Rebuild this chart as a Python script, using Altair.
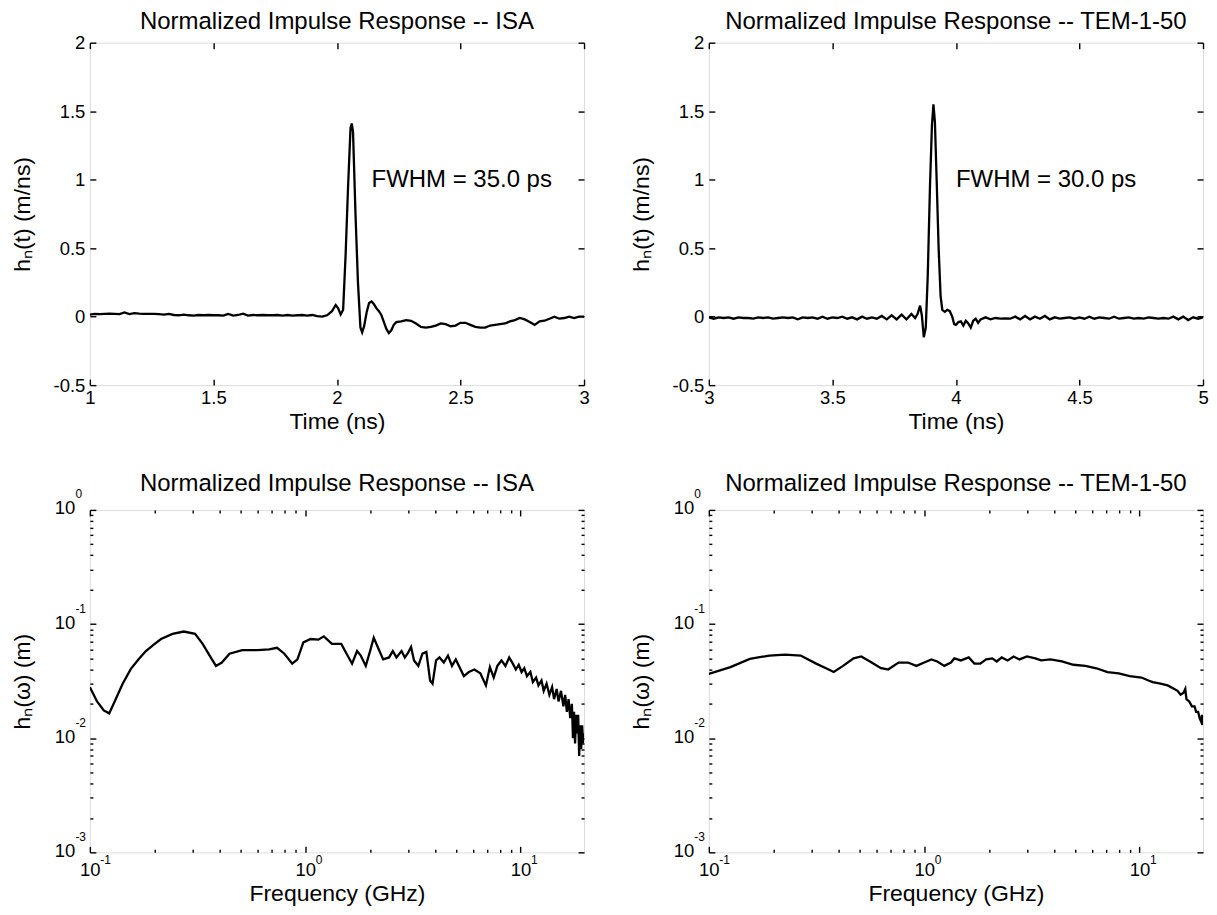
import altair as alt
import pandas as pd

FONT = "Liberation Sans"
W, H = 495, 343
TITLE_FS = 24
LABEL_FS = 18.5
AXTITLE_FS = 23
NOTE_FS = 24
EXP_FS = 12
MAJ, MIN = 6, 3

# ---------------- data: ISA time response ----------------
isa_t = [1.00, 1.02, 1.04, 1.06, 1.08, 1.10, 1.12, 1.14, 1.16, 1.18,
         1.20, 1.22, 1.24, 1.26, 1.28, 1.30, 1.32, 1.34, 1.36, 1.38,
         1.40, 1.42, 1.44, 1.46, 1.48, 1.50, 1.52, 1.54, 1.56, 1.58,
         1.60, 1.62, 1.64, 1.66, 1.68, 1.70, 1.72, 1.74, 1.76, 1.78,
         1.80, 1.82, 1.84, 1.86, 1.88, 1.90, 1.92, 1.94,
         1.96, 1.98, 1.995, 2.005, 2.015, 2.025, 2.035, 2.045, 2.055, 2.06,
         2.065, 2.075, 2.085, 2.095, 2.102, 2.11, 2.12, 2.13, 2.14, 2.15,
         2.16, 2.17, 2.18, 2.19, 2.20, 2.21, 2.22, 2.23, 2.24,
         2.26, 2.28, 2.30, 2.32, 2.34, 2.36, 2.38, 2.40, 2.42, 2.44,
         2.46, 2.48, 2.50, 2.52, 2.54, 2.56, 2.58, 2.60, 2.62, 2.64,
         2.66, 2.68, 2.70, 2.72, 2.74, 2.76, 2.78, 2.80, 2.82, 2.84,
         2.86, 2.88, 2.90, 2.92, 2.94, 2.96, 2.98, 3.00]
isa_h = [0.015, 0.02, 0.018, 0.02, 0.022, 0.02, 0.018, 0.03, 0.018, 0.025,
         0.022, 0.02, 0.02, 0.02, 0.018, 0.015, 0.02, 0.012, 0.01, 0.015,
         0.01, 0.008, 0.012, 0.01, 0.012, 0.01, 0.01, 0.008, 0.02, 0.008,
         0.012, 0.022, 0.008, 0.012, 0.01, 0.012, 0.01, 0.01, 0.012, 0.008,
         0.012, 0.008, 0.01, 0.012, 0.008, 0.012, 0.004, 0.0,
         0.01, 0.04, 0.085, 0.06, 0.015, 0.05, 0.45, 0.95, 1.38, 1.41,
         1.35, 0.75, 0.25, -0.08, -0.115, -0.07, 0.03, 0.1, 0.11, 0.09,
         0.06, 0.04, 0.01, -0.04, -0.09, -0.12, -0.1, -0.06, -0.04,
         -0.035, -0.025, -0.03, -0.05, -0.075, -0.08, -0.075, -0.065, -0.05, -0.055,
         -0.07, -0.065, -0.045, -0.045, -0.06, -0.075, -0.08, -0.08, -0.065, -0.06,
         -0.055, -0.05, -0.035, -0.025, -0.01, -0.02, -0.04, -0.06, -0.035, -0.03,
         -0.015, 0.0, -0.015, -0.01, 0.0, -0.01, 0.0, 0.0]

# ---------------- data: TEM-1-50 time response ----------------
tem_t = [3.00, 3.02, 3.04, 3.06, 3.08, 3.10, 3.12, 3.14, 3.16, 3.18,
         3.20, 3.22, 3.24, 3.26, 3.28, 3.30, 3.32, 3.34, 3.36, 3.38,
         3.40, 3.42, 3.44, 3.46, 3.48, 3.50, 3.52, 3.54, 3.56, 3.58,
         3.60, 3.62, 3.64, 3.66, 3.68, 3.70, 3.72, 3.74, 3.76, 3.78, 3.80,
         3.82, 3.835, 3.845, 3.855, 3.862, 3.87, 3.878, 3.886, 3.895, 3.903,
         3.909, 3.915, 3.922, 3.93, 3.938, 3.945, 3.955, 3.965, 3.975, 3.985,
         3.993, 4.00, 4.01, 4.02, 4.03, 4.04, 4.05, 4.06, 4.07, 4.08,
         4.09, 4.10, 4.12, 4.14,
         4.16, 4.18, 4.20, 4.22, 4.24, 4.26, 4.28, 4.30, 4.32, 4.34,
         4.36, 4.38, 4.40, 4.42, 4.44, 4.46, 4.48, 4.50, 4.52, 4.54,
         4.56, 4.58, 4.60, 4.62, 4.64, 4.66, 4.68, 4.70, 4.72, 4.74,
         4.76, 4.78, 4.80, 4.82, 4.84, 4.86, 4.88, 4.90, 4.92, 4.94,
         4.96, 4.98, 5.00]
tem_h = [-0.005, -0.015, -0.005, -0.01, -0.005, -0.015, -0.005, -0.01, -0.01, -0.015,
         -0.005, -0.01, -0.005, -0.015, -0.01, -0.005, -0.01, -0.005, -0.02, -0.005,
         -0.01, -0.005, -0.015, 0.0, -0.015, -0.005, -0.01, 0.0, -0.015, -0.005,
         -0.02, 0.0, -0.015, -0.005, -0.015, 0.005, -0.02, 0.01, -0.02, 0.015, -0.02,
         0.02, -0.01, 0.02, 0.08, 0.01, -0.15, -0.08, 0.3, 0.95, 1.4,
         1.55, 1.42, 1.0, 0.5, 0.15, 0.05, 0.035, 0.05, 0.04, 0.0,
         -0.055, -0.06, -0.04, -0.035, -0.065, -0.03, -0.05, -0.08, -0.03, -0.015,
         -0.045, -0.02, -0.005, -0.02,
         -0.01, -0.015, -0.012, -0.015, 0.0, -0.02, 0.005, -0.02, 0.0, -0.015,
         0.005, -0.02, -0.005, -0.015, -0.01, -0.005, -0.015, -0.005, -0.015, 0.0,
         -0.015, -0.005, -0.01, -0.015, 0.0, -0.015, -0.01, -0.005, -0.015, -0.01,
         -0.015, -0.005, -0.01, -0.015, -0.01, -0.015, 0.0, -0.02, 0.0, -0.025,
         -0.005, -0.015, -0.005]

# ---------------- data: ISA frequency response ----------------
isa_f = [0.1, 0.108, 0.116, 0.123, 0.131, 0.142, 0.155, 0.168, 0.182, 0.198,
         0.214, 0.242, 0.273, 0.308, 0.334, 0.364, 0.385, 0.41, 0.445, 0.51,
         0.6, 0.68, 0.74, 0.8, 0.87, 0.92, 0.98, 1.06, 1.15, 1.22,
         1.33, 1.47, 1.59, 1.65, 1.74, 1.81, 1.91, 2.0, 2.08, 2.17,
         2.3, 2.45, 2.55, 2.65, 2.8, 2.9, 3.0, 3.1, 3.2, 3.35,
         3.5, 3.65, 3.8, 3.9, 4.05, 4.2, 4.4, 4.6, 4.8, 5.0,
         5.2, 5.45, 5.75, 6.1, 6.5, 6.9, 7.2, 7.5, 7.8, 8.15,
         8.5, 8.85, 9.2, 9.5, 9.8, 10.1, 10.4, 10.7, 11.1, 11.4,
         11.8, 12.1, 12.5, 12.8, 13.2, 13.6, 14.0, 14.3, 14.7, 15.0,
         15.4, 15.8, 16.1, 16.4, 16.7, 17.0, 17.3, 17.5, 17.7, 17.9,
         18.1, 18.3, 18.5, 18.7, 18.9, 19.1, 19.3, 19.5, 19.65]
isa_hf = [0.028, 0.021, 0.0175, 0.0165, 0.0214, 0.030, 0.0405, 0.049, 0.058, 0.066,
          0.074, 0.082, 0.086, 0.082, 0.067, 0.051, 0.043, 0.046, 0.055, 0.059,
          0.059, 0.060, 0.062, 0.055, 0.045, 0.049, 0.069, 0.074, 0.073, 0.078,
          0.067, 0.067, 0.051, 0.045, 0.058, 0.053, 0.043, 0.058, 0.076, 0.063,
          0.049, 0.051, 0.058, 0.051, 0.058, 0.051, 0.056, 0.063, 0.048, 0.043,
          0.055, 0.057, 0.032, 0.030, 0.048, 0.051, 0.046, 0.053, 0.043, 0.049,
          0.042, 0.035, 0.038, 0.040, 0.037, 0.029, 0.042, 0.034, 0.043, 0.048,
          0.043, 0.051, 0.045, 0.040, 0.044, 0.038, 0.041, 0.035, 0.038, 0.031,
          0.034, 0.029, 0.032, 0.026, 0.030, 0.024, 0.028, 0.022, 0.027, 0.021,
          0.026, 0.019, 0.024, 0.017, 0.022, 0.015, 0.020, 0.010, 0.017, 0.009,
          0.016, 0.011, 0.016, 0.007, 0.013, 0.008, 0.013, 0.009, 0.011]

# ---------------- data: TEM-1-50 frequency response ----------------
tem_f = [0.1, 0.126, 0.155, 0.191, 0.226, 0.267, 0.315, 0.35, 0.38, 0.42,
         0.47, 0.51, 0.56, 0.63, 0.68, 0.76, 0.84, 0.92, 1.0, 1.08,
         1.15, 1.24, 1.33, 1.38, 1.48, 1.61, 1.71, 1.82, 1.94, 2.07,
         2.17, 2.29, 2.44, 2.6, 2.77, 3.0, 3.28, 3.49, 3.86, 4.36,
         4.93, 5.6, 6.3, 7.1, 8.0, 9.0, 10.2, 11.0, 11.5, 12.5,
         13.5, 14.5, 15.0, 15.5, 16.0, 16.3, 16.5, 17.0, 17.5, 18.0,
         18.3, 18.7, 19.0, 19.3, 19.5, 19.65]
tem_hf = [0.0366, 0.042, 0.0495, 0.053, 0.054, 0.053, 0.045, 0.041, 0.038, 0.043,
          0.050, 0.052, 0.047, 0.041, 0.040, 0.046, 0.046, 0.043, 0.046, 0.049,
          0.047, 0.043, 0.046, 0.050, 0.048, 0.051, 0.045, 0.045, 0.049, 0.050,
          0.047, 0.051, 0.048, 0.052, 0.049, 0.052, 0.050, 0.048, 0.049, 0.047,
          0.044, 0.043, 0.041, 0.038, 0.037, 0.035, 0.034, 0.032, 0.031, 0.030,
          0.029, 0.027, 0.026, 0.024, 0.025, 0.027, 0.022, 0.021, 0.019, 0.019,
          0.017, 0.017, 0.015, 0.014, 0.016, 0.013]

# ---------------- text ----------------
titles = ["Normalized Impulse Response -- ISA", "Normalized Impulse Response -- TEM-1-50"]
notes = ["FWHM = 35.0 ps", "FWHM = 30.0 ps"]
note_t = [2.14, 4.0]
note_h = [1.0, 1.0]

time_ticks_isa = [1, 1.5, 2, 2.5, 3]
time_ticks_tem = [3, 3.5, 4, 4.5, 5]
h_ticks = [-0.5, 0, 0.5, 1, 1.5, 2]
f_major = [0.1, 1, 10]
f_minor = [0.2, 0.3, 0.4, 0.5, 0.6, 0.7, 0.8, 0.9, 2, 3, 4, 5, 6, 7, 8, 9]
m_major = [0.001, 0.01, 0.1, 1]
m_minor = [0.002, 0.003, 0.004, 0.005, 0.006, 0.007, 0.008, 0.009,
           0.02, 0.03, 0.04, 0.05, 0.06, 0.07, 0.08, 0.09,
           0.2, 0.3, 0.4, 0.5, 0.6, 0.7, 0.8, 0.9]


def ax(**kw):
    base = dict(grid=False, domain=False, labelFont=FONT, titleFont=FONT,
                labelColor="black", titleColor="black", tickColor="black",
                labelFlush=False, labelOverlap=False, labelBound=False)
    base.update(kw)
    return alt.Axis(**base)


def tick_axis(orient, values, size):
    return ax(orient=orient, values=values, labels=False, ticks=True,
              tickSize=size, tickWidth=1.4, offset=-size, title=None)


def panel(df, xf, yf, xscale, yscale, title, title_offset, xaxes, yaxes, note_df=None):
    layers = []
    for i, (xa, ya) in enumerate(zip(xaxes, yaxes)):
        if i == 0:
            mk = alt.Chart(df).mark_line(color="black", strokeWidth=2.3, clip=True)
        else:
            mk = alt.Chart(df).mark_line(color="black", opacity=0, clip=True)
        layers.append(mk.encode(
            x=alt.X(xf, type="quantitative", scale=xscale, axis=xa),
            y=alt.Y(yf, type="quantitative", scale=yscale, axis=ya),
        ))
    if note_df is not None:
        layers.append(alt.Chart(note_df).mark_text(
            align="left", baseline="middle", font=FONT, fontSize=NOTE_FS, color="black"
        ).encode(
            x=alt.X(xf, type="quantitative", scale=xscale, axis=None),
            y=alt.Y(yf, type="quantitative", scale=yscale, axis=None),
            text="label:N",
        ))
    return alt.layer(*layers).resolve_axis(x="independent", y="independent").properties(
        width=W, height=H,
        title=alt.TitleParams(title, font=FONT, fontSize=TITLE_FS, fontWeight="normal",
                              anchor="middle", frame="group", offset=title_offset,
                              color="black"),
    )


def time_panel(t, h, xticks, title, note, nt, nh):
    df = pd.DataFrame({"t": t, "h": h})
    ndf = pd.DataFrame({"t": [nt], "h": [nh], "label": [note]})
    xs = alt.Scale(domain=[xticks[0], xticks[-1]], nice=False, zero=False)
    ys = alt.Scale(domain=[-0.5, 2], nice=False, zero=False)
    xlab = ax(orient="bottom", values=xticks, labelExpr="'' + datum.value", ticks=False,
              tickSize=0, labelPadding=3, labelFontSize=LABEL_FS, title="Time (ns)",
              titleFontSize=AXTITLE_FS, titleFontWeight="normal", titlePadding=3.5,
              minExtent=22, maxExtent=22)
    ylab = ax(orient="left", values=h_ticks, labelExpr="'' + datum.value", ticks=False,
              tickSize=0, labelPadding=5, labelFontSize=LABEL_FS, title="hₙ(t) (m/ns)",
              titleFontSize=AXTITLE_FS, titleFontWeight="normal", titlePadding=17,
              minExtent=38, maxExtent=38)
    xaxes = [xlab, tick_axis("bottom", xticks, MAJ), tick_axis("top", xticks, MAJ)]
    yaxes = [ylab, tick_axis("left", h_ticks, MAJ), tick_axis("right", h_ticks, MAJ)]
    return panel(df, "t", "h", xs, ys, title, 0, xaxes, yaxes, ndf)


X_EXP = "datum.value < 0.5 ? '-1' : (datum.value < 5 ? '0' : '1')"
Y_EXP = ("datum.value < 0.005 ? '-3' : (datum.value < 0.05 ? '-2' : "
         "(datum.value < 0.5 ? '-1' : '0'))")


def freq_panel(f, hf, title):
    df = pd.DataFrame({"f": f, "m": hf})
    xs = alt.Scale(type="log", domain=[0.1, 19.7], nice=False)
    ys = alt.Scale(type="log", domain=[0.001, 1], nice=False)
    xbase = ax(orient="bottom", values=f_major, labelExpr="'10'", ticks=False, tickSize=0,
               labelPadding=8, labelBaseline="top", labelAlign="center",
               labelFontSize=LABEL_FS, title="Frequency (GHz)", titleFontSize=AXTITLE_FS,
               titleFontWeight="normal", titlePadding=3.5, minExtent=26.5, maxExtent=26.5)
    xexp = ax(orient="bottom", values=f_major, labelExpr=X_EXP, ticks=False, tickSize=0,
              labelPadding=2, labelBaseline="top", labelAlign="left", labelOffset=10,
              labelFontSize=EXP_FS, title=None)
    ybase = ax(orient="left", values=m_major, labelExpr="'10'", ticks=False, tickSize=0,
               labelPadding=15, labelBaseline="alphabetic", labelAlign="right", labelOffset=4,
               labelFontSize=LABEL_FS, title="hₙ(ω) (m)", titleFontSize=AXTITLE_FS,
               titleFontWeight="normal", titlePadding=17, minExtent=38, maxExtent=38)
    yexp = ax(orient="left", values=m_major, labelExpr=Y_EXP, ticks=False, tickSize=0,
              labelPadding=15, labelBaseline="alphabetic", labelAlign="left", labelOffset=-12,
              labelFontSize=EXP_FS, title=None)
    xaxes = [xbase, xexp,
             tick_axis("bottom", f_major, MAJ), tick_axis("top", f_major, MAJ),
             tick_axis("bottom", f_minor, MIN), tick_axis("top", f_minor, MIN)]
    yaxes = [ybase, yexp,
             tick_axis("left", m_major, MAJ), tick_axis("right", m_major, MAJ),
             tick_axis("left", m_minor, MIN), tick_axis("right", m_minor, MIN)]
    return panel(df, "f", "m", xs, ys, title, -8.5, xaxes, yaxes)


p1 = time_panel(isa_t, isa_h, time_ticks_isa, titles[0], notes[0], note_t[0], note_h[0])
p2 = time_panel(tem_t, tem_h, time_ticks_tem, titles[1], notes[1], note_t[1], note_h[1])
p3 = freq_panel(isa_f, isa_hf, titles[0])
p4 = freq_panel(tem_f, tem_hf, titles[1])

chart = alt.concat(p1, p2, p3, p4, columns=2,
                   spacing=alt.RowColnumber(row=38, column=40)).properties(
    padding={"left": 3, "top": 0, "right": 0, "bottom": 0},
    background="white",
).configure_view(stroke="black", strokeWidth=2.2).configure(font=FONT)

chart.save("out.html", embed_options={"renderer": "svg", "actions": False})
